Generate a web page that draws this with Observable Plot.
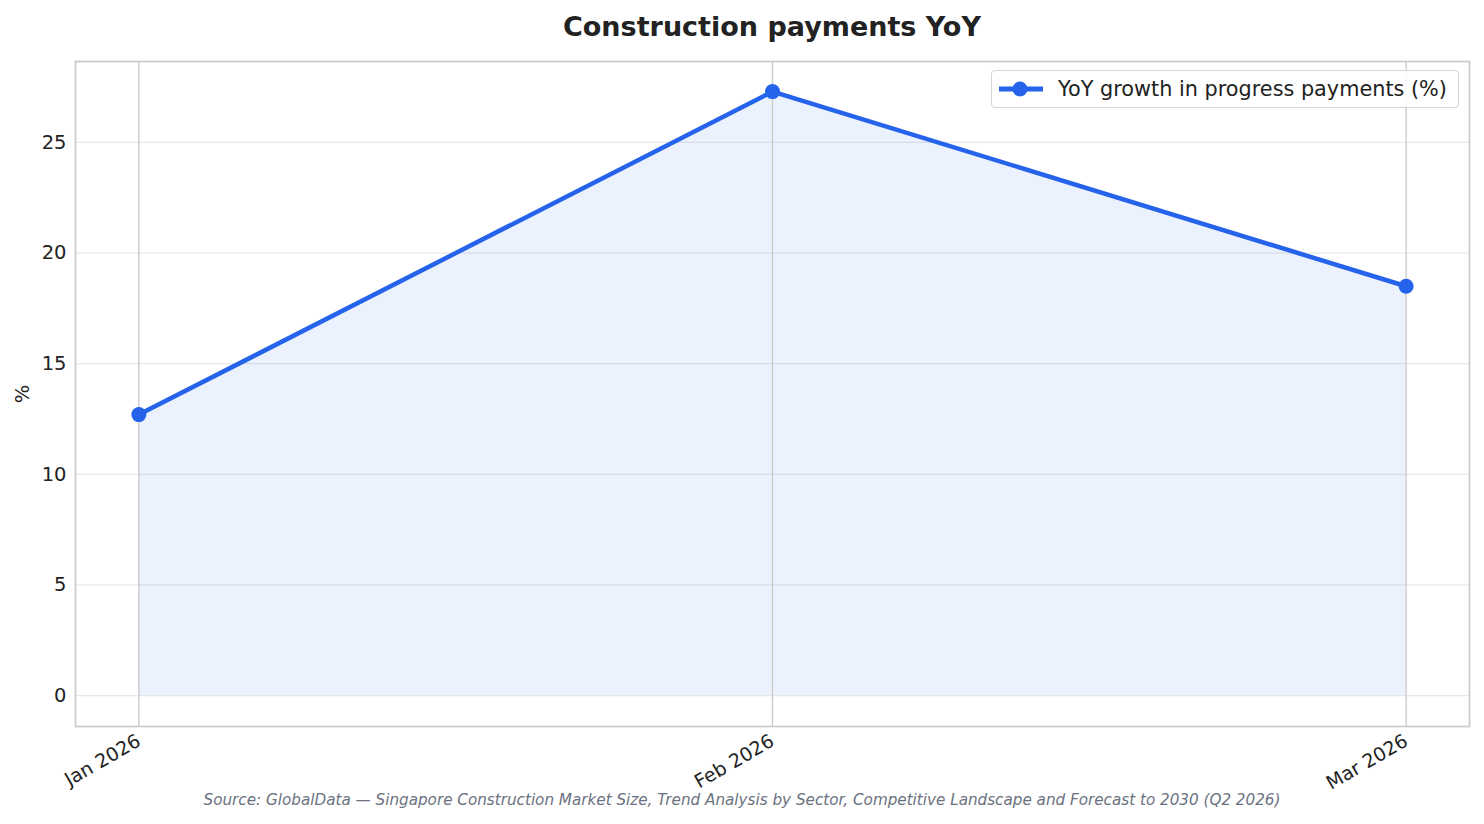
<!DOCTYPE html>
<html>
<head>
<meta charset="utf-8">
<script src="https://cdn.jsdelivr.net/npm/d3@7"></script>
<script src="https://cdn.jsdelivr.net/npm/@observablehq/plot@0.6"></script>
<style>
  html, body { margin: 0; padding: 0; background: #fff; }
  body { width: 1484px; height: 824px; position: relative; font-family: "DejaVu Sans", sans-serif; overflow: hidden; }
  #title { position: absolute; left: 0; top: 0; width: 1544px; height: 54px; line-height: 54px; text-align: center; font-weight: bold; font-size: 27px; color: #222; }
  #chart { position: absolute; left: 0; top: 50px; }
  #caption { position: absolute; left: 0; top: 790px; width: 1484px; text-align: center; font-style: italic; font-size: 15.2px; color: #6b7280; line-height: 20px; }
  #legend { position: absolute; left: 991px; top: 70px; width: 468px; height: 38px; box-sizing: border-box; border: 1.5px solid #d4d4d4; border-radius: 4px; background: rgba(255,255,255,0.9); display: flex; align-items: center; font-size: 20.8px; color: #222; }
  #legend svg { margin-left: 5px; margin-right: 13px; }
</style>
</head>
<body>
<div id="title">Construction payments YoY</div>
<div id="chart"></div>
<div id="legend"><svg width="48" height="20"><line x1="2" y1="10" x2="46" y2="10" stroke="#2563eb" stroke-width="5"/><circle cx="23" cy="10" r="7.5" fill="#2563eb"/></svg><span>YoY growth in progress payments (%)</span></div>
<div id="caption">Source: GlobalData — Singapore Construction Market Size, Trend Analysis by Sector, Competitive Landscape and Forecast to 2030 (Q2 2026)</div>
<script>
const months = ["Jan 2026", "Feb 2026", "Mar 2026"];
const yoy = [12.7, 27.3, 18.5];
const yTicks = [0, 5, 10, 15, 20, 25];

const data = months.map((m, i) => ({i, m, v: yoy[i]}));
const blue = "#2563eb";

const chart = Plot.plot({
  width: 1484,
  height: 764,
  marginLeft: 75,
  marginRight: 15,
  marginTop: 11,
  marginBottom: 88,
  style: {fontFamily: "'DejaVu Sans', sans-serif", fontSize: "17px", color: "#222", background: "transparent"},
  x: {type: "linear", domain: [-0.1, 2.1]},
  y: {domain: [-1.40, 28.66]},
  marks: [
    Plot.gridY(yTicks, {stroke: "#e8e8e8", strokeOpacity: 1, strokeWidth: 1.2}),
    Plot.areaY(data, {x: "i", y: "v", fill: blue, fillOpacity: 0.085}),
    Plot.gridX(d3.range(months.length), {stroke: "#c8c8c8", strokeOpacity: 1, strokeWidth: 1.3}),
    Plot.frame({stroke: "#cccccc", strokeWidth: 1.8}),
    Plot.axisY({ticks: yTicks, tickSize: 0, tickPadding: 9, label: "%", labelAnchor: "center", labelArrow: "none", labelOffset: 60, fontSize: 19.5}),
    Plot.axisX({ticks: d3.range(months.length), tickFormat: i => months[i], tickSize: 0, tickRotate: -30, tickPadding: 13, label: null, fontSize: 19}),
    Plot.line(data, {x: "i", y: "v", stroke: blue, strokeWidth: 4.5}),
    Plot.dot(data, {x: "i", y: "v", fill: blue, r: 7.5})
  ]
});
document.getElementById("chart").appendChild(chart);
</script>
</body>
</html>
